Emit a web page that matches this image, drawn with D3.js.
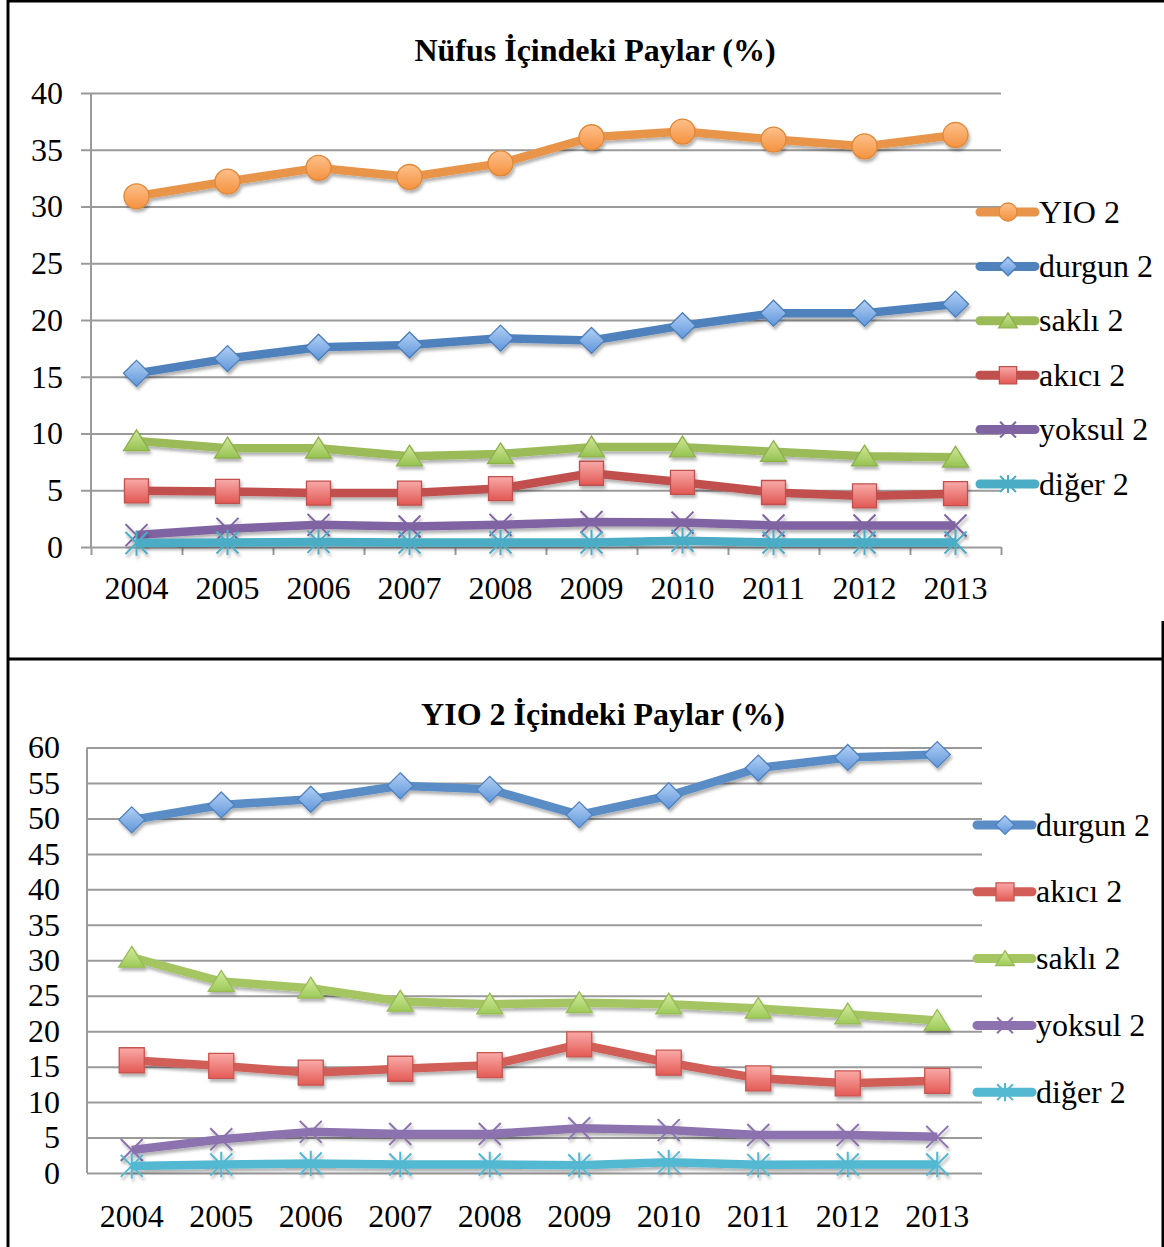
<!DOCTYPE html>
<html>
<head>
<meta charset="utf-8">
<script src="https://cdn.jsdelivr.net/npm/d3@7"></script>
<style>
  body { margin: 0; background: #fff; }
  text { font-family: "Liberation Serif", "Times New Roman", serif; fill: #000; }
</style>
</head>
<body>
<div id="chart"></div>
<script>
// years on the x axis (both charts)
const years = ['2004', '2005', '2006', '2007', '2008', '2009', '2010', '2011', '2012', '2013']

// chart 1: Nüfus İçindeki Paylar (%)
const nufusYIO    = [30.9, 32.2, 33.4, 32.6, 33.8, 36.1, 36.6, 35.9, 35.3, 36.3]
const nufusDurgun = [15.3, 16.6, 17.6, 17.8, 18.4, 18.2, 19.5, 20.6, 20.6, 21.4]
const nufusSakli  = [9.35, 8.7, 8.7, 8.0, 8.2, 8.8, 8.8, 8.4, 8.0, 7.9]
const nufusAkici  = [4.95, 4.9, 4.75, 4.75, 5.15, 6.5, 5.7, 4.8, 4.5, 4.7]
const nufusYoksul = [1.05, 1.6, 1.95, 1.8, 1.95, 2.2, 2.15, 1.9, 1.9, 1.9]
const nufusDiger  = [0.35, 0.4, 0.45, 0.4, 0.4, 0.4, 0.55, 0.4, 0.4, 0.4]
const nufusTicks  = [0, 5, 10, 15, 20, 25, 30, 35, 40]

// chart 2: YIO 2 İçindeki Paylar (%)
const yioDurgun = [49.8, 51.9, 52.7, 54.6, 54.1, 50.5, 53.2, 57.1, 58.6, 59.0]
const yioAkici  = [15.9, 15.1, 14.15, 14.7, 15.2, 18.15, 15.55, 13.35, 12.65, 13.0]
const yioSakli  = [30.4, 27.0, 26.05, 24.2, 23.8, 24.0, 23.8, 23.2, 22.4, 21.5]
const yioYoksul = [3.25, 4.75, 5.8, 5.5, 5.5, 6.3, 6.05, 5.35, 5.35, 5.1]
const yioDiger  = [1.0, 1.2, 1.35, 1.2, 1.2, 1.1, 1.5, 1.15, 1.2, 1.2]
const yioTicks  = [0, 5, 10, 15, 20, 25, 30, 35, 40, 45, 50, 55, 60]

const fontSize = 32

const svg = d3.select('#chart')
    .append('svg')
    .attr('width', 1164)
    .attr('height', 1247)

const defs = svg.append('defs')

const shadow = defs.append('filter')
    .attr('id', 'shadow')
    .attr('x', '-50%').attr('y', '-50%')
    .attr('width', '200%').attr('height', '200%')
shadow.append('feDropShadow')
    .attr('dx', 1.5).attr('dy', 3)
    .attr('stdDeviation', 1.8)
    .attr('flood-color', '#000')
    .attr('flood-opacity', 0.3)

function gradient(id, top, bottom) {
    const g = defs.append('linearGradient')
        .attr('id', id)
        .attr('x1', 0).attr('y1', 0).attr('x2', 0).attr('y2', 1)
    g.append('stop').attr('offset', '0%').attr('stop-color', top)
    g.append('stop').attr('offset', '100%').attr('stop-color', bottom)
    return 'url(#' + id + ')'
}

// marker shapes, r = half width
function markerPath(shape, r) {
    const p = d3.path()
    if (shape === 'circle') {
        p.arc(0, 0, r, 0, Math.PI * 2)
    } else if (shape === 'diamond') {
        p.moveTo(0, -r); p.lineTo(r, 0); p.lineTo(0, r); p.lineTo(-r, 0); p.closePath()
    } else if (shape === 'triangle') {
        p.moveTo(0, -r * 0.85); p.lineTo(r, r * 0.75); p.lineTo(-r, r * 0.75); p.closePath()
    } else if (shape === 'square') {
        p.rect(-r, -r, 2 * r, 2 * r)
    } else if (shape === 'x') {
        p.moveTo(-r, -r); p.lineTo(r, r); p.moveTo(r, -r); p.lineTo(-r, r)
    } else if (shape === 'star') {
        p.moveTo(-r, -r); p.lineTo(r, r); p.moveTo(r, -r); p.lineTo(-r, r)
        p.moveTo(0, -r * 1.15); p.lineTo(0, r * 1.15)
    }
    return p.toString()
}

function drawMarker(g, s, r) {
    const open = s.shape === 'x' || s.shape === 'star'
    g.append('path')
        .attr('d', markerPath(s.shape, r))
        .attr('fill', open ? 'none' : s.fill)
        .attr('stroke', s.stroke)
        .attr('stroke-width', open ? 2 : 1.3)
}

function drawChart(c) {
    const x = d3.scaleBand()
        .domain(years)
        .range([c.left, c.right])

    const y = d3.scaleLinear()
        .domain([0, c.max])
        .range([c.bottom, c.top])

    // gridlines + y labels
    const yAxis = svg.append('g')
        .attr('transform', `translate(${c.left - c.tickOut}, 0)`)
        .call(d3.axisLeft(y)
            .tickValues(c.ticks)
            .tickSize(-(c.right - c.left + c.tickOut))
            .tickPadding(c.labelPad))
    yAxis.select('.domain').remove()
    yAxis.selectAll('line').attr('stroke', '#9a9a9a').attr('stroke-width', 2)
    yAxis.selectAll('text')
        .attr('font-size', fontSize)
        .attr('font-family', '"Liberation Serif", serif')

    // vertical axis line
    svg.append('line')
        .attr('x1', c.left).attr('x2', c.left)
        .attr('y1', y(c.max)).attr('y2', y(0))
        .attr('stroke', '#9a9a9a').attr('stroke-width', 2)

    // x tick marks on category boundaries
    if (c.xTicks) {
        const edge = d3.scaleLinear().domain([0, years.length]).range([c.left, c.right])
        const xt = svg.append('g')
            .attr('transform', `translate(0, ${c.bottom})`)
            .call(d3.axisBottom(edge)
                .tickValues(d3.range(years.length + 1))
                .tickSize(8)
                .tickFormat(''))
        xt.select('.domain').remove()
        xt.selectAll('line').attr('stroke', '#9a9a9a').attr('stroke-width', 2)
    }

    // x labels
    const xAxis = svg.append('g')
        .attr('transform', `translate(0, ${c.bottom})`)
        .call(d3.axisBottom(x).tickSize(0).tickPadding(c.xPad))
    xAxis.select('.domain').remove()
    xAxis.selectAll('text')
        .attr('font-size', fontSize)
        .attr('font-family', '"Liberation Serif", serif')

    // title
    svg.append('text')
        .attr('x', c.titleX)
        .attr('y', c.titleY)
        .attr('text-anchor', 'middle')
        .attr('font-size', 32)
        .attr('font-weight', 'bold')
        .text(c.title)

    const line = d3.line()
        .x((d, i) => x(years[i]) + x.bandwidth() / 2)
        .y(d => y(d))

    c.series.forEach(s => {
        const g = svg.append('g').attr('filter', 'url(#shadow)')
        g.append('path')
            .datum(s.values)
            .attr('d', line)
            .attr('fill', 'none')
            .attr('stroke', s.color)
            .attr('stroke-width', 8.5)
            .attr('stroke-linejoin', 'round')

        g.selectAll('g.m')
            .data(s.values)
            .join('g')
            .attr('class', 'm')
            .attr('transform', (d, i) => `translate(${x(years[i]) + x.bandwidth() / 2}, ${y(d)})`)
            .each(function () { drawMarker(d3.select(this), s, s.r) })
    })

    // legend
    c.legend.forEach((s, i) => {
        const ly = c.legendY + i * c.legendStep
        const g = svg.append('g').attr('transform', `translate(0, ${ly})`)
        g.append('line')
            .attr('x1', c.legendX).attr('x2', c.legendX + 55)
            .attr('stroke', s.color).attr('stroke-width', 9)
            .attr('stroke-linecap', 'round')
        const m = g.append('g').attr('transform', `translate(${c.legendX + 28}, 0)`)
        drawMarker(m, s, s.r * 0.72)
        g.append('text')
            .attr('x', c.legendX + 59)
            .attr('dy', '0.33em')
            .attr('font-size', fontSize)
            .text(s.name)
    })
}

// series styles
const sYIO1 = { name: 'YIO 2', values: nufusYIO, shape: 'circle', r: 12.5, color: '#E8944A', stroke: '#DE8838', fill: gradient('gO', '#FDC08A', '#F59240') }
const sDur1 = { name: 'durgun 2', values: nufusDurgun, shape: 'diamond', r: 13, color: '#4F81BD', stroke: '#4A7DB8', fill: gradient('gB', '#B3D0F5', '#5F96DA') }
const sSak1 = { name: 'saklı 2', values: nufusSakli, shape: 'triangle', r: 13, color: '#9BBB59', stroke: '#8EB04C', fill: gradient('gG', '#D2E89A', '#95C250') }
const sAki1 = { name: 'akıcı 2', values: nufusAkici, shape: 'square', r: 12, color: '#C0504D', stroke: '#C0504D', fill: gradient('gR', '#F7AAA8', '#E25753') }
const sYok1 = { name: 'yoksul 2', values: nufusYoksul, shape: 'x', r: 11, color: '#8064A2', stroke: '#8064A2', fill: 'none' }
const sDig1 = { name: 'diğer 2', values: nufusDiger, shape: 'star', r: 11, color: '#4BACC6', stroke: '#4BACC6', fill: 'none' }

const sDur2 = { name: 'durgun 2', values: yioDurgun, shape: 'diamond', r: 13, color: '#5A8CC6', stroke: '#4F81BD', fill: gradient('gB2', '#B3D0F5', '#5F96DA') }
const sAki2 = { name: 'akıcı 2', values: yioAkici, shape: 'square', r: 12.5, color: '#D15F58', stroke: '#C9544F', fill: gradient('gR2', '#F9AAA7', '#E45A55') }
const sSak2 = { name: 'saklı 2', values: yioSakli, shape: 'triangle', r: 13, color: '#A5C563', stroke: '#98BB55', fill: gradient('gG2', '#D5EBA0', '#9CCA58') }
const sYok2 = { name: 'yoksul 2', values: yioYoksul, shape: 'x', r: 11, color: '#8C72AE', stroke: '#8C72AE', fill: 'none' }
const sDig2 = { name: 'diğer 2', values: yioDiger, shape: 'star', r: 11, color: '#53B8D1', stroke: '#53B8D1', fill: 'none' }

drawChart({
    title: 'Nüfus İçindeki Paylar (%)', titleX: 595, titleY: 61,
    left: 91, right: 1001, top: 93, bottom: 547, max: 40, ticks: nufusTicks,
    tickOut: 10, labelPad: 18, xPad: 29, xTicks: true,
    series: [sYIO1, sDur1, sSak1, sAki1, sYok1, sDig1],
    legend: [sYIO1, sDur1, sSak1, sAki1, sYok1, sDig1],
    legendX: 980, legendY: 212, legendStep: 54.4
})

drawChart({
    title: 'YIO 2 İçindeki Paylar (%)', titleX: 603, titleY: 725,
    left: 87, right: 982, top: 747.5, bottom: 1173, max: 60, ticks: yioTicks,
    tickOut: 0, labelPad: 27, xPad: 31, xTicks: false,
    series: [sDur2, sAki2, sSak2, sYok2, sDig2],
    legend: [sDur2, sAki2, sSak2, sYok2, sDig2],
    legendX: 977, legendY: 825, legendStep: 66.8
})

// page frame lines
const frame = [
    [8, 1, 1164, 1],
    [8, 0, 8, 1247],
    [8, 659, 1163, 659],
    [1163, 621, 1163, 1247]
]
svg.append('g')
    .selectAll('line')
    .data(frame)
    .join('line')
    .attr('x1', d => d[0]).attr('y1', d => d[1])
    .attr('x2', d => d[2]).attr('y2', d => d[3])
    .attr('stroke', '#000')
    .attr('stroke-width', 3)
</script>
</body>
</html>
